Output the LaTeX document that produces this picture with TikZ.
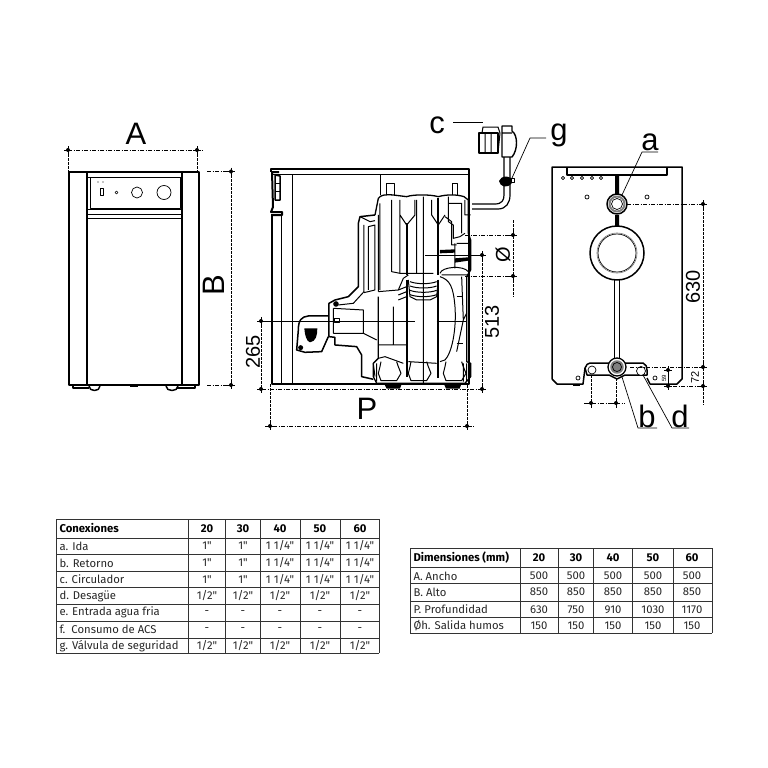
\documentclass[tikz,border=0pt]{standalone}
\usepackage{fontspec}
\setmainfont{Liberation Sans}
\newfontfamily\tablefont{Fira Sans}
\tikzset{
  dim/.style={black,line width=0.7pt,dash pattern=on 4pt off 1.5pt on 1pt off 1.5pt},
  dimv/.style={black,line width=0.7pt,dash pattern=on 2.5pt off 1.5pt},
  heavy/.style={line width=2pt},
  letter/.style={font=\fontsize{31}{31}\selectfont,inner sep=0pt},
  measure/.style={font=\fontsize{20}{20}\selectfont,inner sep=0pt,rotate=90},
  cell/.style={font=\tablefont\fontsize{11.3}{12}\selectfont,inner sep=0pt,text=black!85},
  cellhead/.style={font=\tablefont\bfseries\fontsize{11.3}{12}\selectfont,inner sep=0pt},
  rule/.style={line width=0.8pt,black!80},
}
\newcommand{\dimdot}[1]{\fill (#1) circle (2pt); \draw[line width=0.5pt] ($(#1)+(-4,0)$) -- ($(#1)+(4,0)$) ($(#1)+(0,-4)$) -- ($(#1)+(0,4)$);}
\usetikzlibrary{calc}
\begin{document}
\begin{tikzpicture}[x=1pt,y=-1pt,line width=1pt,line join=round]
\useasboundingbox (0,0) rectangle (768,768);
% Vista frontal :
\draw[heavy] (69,172) rectangle (199,385);
\draw[line width=1.3pt] (87,172) -- (87,385) (182,172) -- (182,385);
\draw (87,177) -- (182,177);
\draw (90,177) rectangle (180,208);
\draw (87,209) -- (182,209) (87,214) -- (182,214) (87,218) -- (182,218);
\draw[line width=0.7pt] (100,188) rectangle (103,195);
\fill (98,182) circle (0.7pt) (103,182) circle (0.7pt);
\draw[line width=0.7pt] (116.5,192.5) circle (1.5pt) (137,192.5) circle (5.5pt) (164,192.5) circle (7pt);
\draw[heavy] (73,386) -- (73,388) -- (89,388) (177,388) -- (195,388) -- (195,386);
\draw[line width=1.5pt] (89,386) .. controls (89,392) and (100,392) .. (100,386);
\draw[line width=1.5pt] (166,386) .. controls (166,392) and (178,392) .. (178,386);
\fill (130,385) rectangle (138,387);
% Cotes de la vue frontale :
\draw[dim] (68,150) -- (203,150);
\draw[dimv] (68,150) -- (68,172) (197,150) -- (197,172);
\dimdot{68,150} \dimdot{197,150}
\node[letter] (lblA) at (136,134) {A};
\draw[dim] (207,171.5) -- (231,171.5) (207,385) -- (231,385);
\draw[dimv] (231,171) -- (231,387);
\dimdot{231,171.5} \dimdot{231,385}
\node[letter,rotate=90] (lblB) at (214,285) {B};
\draw[dimv] (261,321) -- (261,389);
\dimdot{261,321} \dimdot{261,389}
\node[measure] (lbl265) at (253,352) {265};
% Vue de cote : caisse
\draw[heavy] (272,214) -- (272,384) -- (469,384) -- (469,169) -- (271,169) -- (271,172);
\draw (272,174) -- (469,174) (281,214) -- (281,384) (292,174) -- (292,384) (380,174) -- (380,195);
\draw[heavy] (272,172) -- (279,172) (272,172) -- (273,207) -- (271,212) -- (282,212) -- (282,215) -- (272,215);
\draw[line width=1.5pt] (275,175) -- (280,176) -- (280,200) -- (275,200) -- cycle;
\draw (275,183) -- (280,183) (275,191) -- (280,191);
% Corps de chaudiere :
\begin{scope}[shift={(260,100)},x=0.3333pt,y=-0.3333pt]
\draw[line width=1.3pt] (345,345) -- (355,295) .. controls (362,285) and (375,283) .. (400,285) -- (440,290) .. controls (460,283) and (510,283) .. (535,290) .. controls (560,283) and (590,283) .. (612,290) -- (625,300) -- (625,400) -- (632,420) -- (632,510) -- (620,530) -- (620,785) -- (632,790) -- (632,830) -- (615,850) -- (350,850) -- (340,830) -- (340,790) -- (355,775) -- (355,590);
% goujons du haut :
\draw (380,285) -- (380,250) -- (405,250) -- (405,285) (578,285) -- (578,250) -- (592,250) -- (592,285);
% virole arriere :
\draw (355,575) -- (415,570) -- (430,535) -- (445,525) (395,300) -- (395,515) -- (420,520) -- (520,520) (360,310) -- (360,570);
\draw[line width=2.2pt] (440,370) -- (440,525) (535,295) -- (535,525) (440,540) -- (440,830) (535,540) -- (535,835);
\draw (420,300) -- (420,345) -- (440,375) -- (465,345) -- (465,300) (515,300) -- (515,345) -- (535,375) -- (555,345) (470,300) -- (470,520) (420,520) -- (420,345);
\draw (490,290) -- (490,855) (445,540) -- (450,590) -- (470,600) -- (510,600) -- (530,590) -- (535,540);
\foreach \rib in {545,558,571,584} \draw (450,\rib) .. controls (470,\rib+8) and (510,\rib+8) .. (530,\rib);
% collecteur de droite :
\draw (565,310) -- (565,365) -- (580,375) -- (580,415) -- (600,410) -- (615,400) (565,290) -- (565,310) -- (605,310) -- (605,400) (615,300) -- (615,345) -- (632,345) (555,350) -- (575,365) -- (575,435) -- (590,435);
\draw (585,430) -- (585,505) (590,430) -- (632,430) (540,520) .. controls (545,500) and (610,495) .. (625,515) (545,525) -- (625,525);
\fill (540,450) -- (585,448) -- (585,458) -- (540,460) -- cycle (585,475) -- (625,472) -- (625,482) -- (585,488) -- cycle;
% sole et brides :
\draw (540,530) .. controls (570,540) and (580,560) .. (585,620) .. controls (590,690) and (575,760) .. (555,780) -- (540,785);
\draw (605,530) -- (610,660) -- (590,755) (610,660) -- (620,640);
\draw (355,775) -- (375,770) -- (430,790) (445,785) -- (530,790) (355,735) -- (440,735) (400,620) -- (400,735);
\foreach \dx in {355,445,550} {\draw (\dx+8,785) -- (\dx+5,800) -- (\dx,820) -- (\dx+8,842) -- (\dx+55,842) -- (\dx+68,820) -- (\dx+60,800) -- (\dx+55,785);}
\draw (340,790) -- (345,830) (350,790) -- (350,845) (610,790) -- (610,845) (620,790) -- (620,845);
\fill (373,852) -- (425,852) -- (420,866) -- (380,866) -- cycle (552,852) -- (604,852) -- (599,866) -- (558,866) -- cycle;
\foreach \rib in {570,585,600} \draw (415,\rib) -- (440,\rib-10);
\draw (590,590) -- (610,590) (590,730) -- (610,730);
% hotte et bruleur :
\draw[line width=1.5pt] (345,345) -- (300,350) -- (295,370) -- (295,560) -- (265,590) -- (225,600) -- (207,610) -- (207,710) -- (225,712) -- (225,735) -- (290,740) -- (305,765) -- (305,830) -- (340,838);
\draw (312,375) -- (312,575) -- (280,610) -- (235,615) (325,380) -- (345,375) -- (345,570) -- (312,578) (325,380) -- (325,570) (355,345) -- (355,575);
\draw (300,350) -- (330,365) -- (345,362);
\draw (220,625) -- (310,630) -- (310,700) -- (220,700) (220,625) -- (220,700) (310,700) -- (350,720);
\draw (225,655) rectangle (240,668);
\fill (228,612) circle (2.8pt);
\draw[line width=1.5pt] (205,648) -- (145,648) .. controls (125,650) and (115,660) .. (115,690) -- (110,750) -- (135,757) -- (185,755) -- (205,710);
\fill (133,685) -- (172,685) .. controls (172,705) and (168,725) .. (150,727) .. controls (140,725) and (134,705) .. (133,685) -- cycle;
\fill (122,743) circle (2.5pt);
% axe du bruleur :
\draw[line width=0.6pt] (0,663) -- (465,663) (530,663) -- (620,663);
\end{scope}
% Circulateur :
\draw[line width=1.2pt] (472,204) -- (495,204) .. controls (502,204) and (504,200) .. (504,195) -- (504,157);
\draw[line width=1.2pt] (472,209) -- (498,209) .. controls (506,209) and (510,203) .. (510,195) -- (510,157);
\draw[line width=1.4pt] (479,133) rectangle (498,153);
\draw (485,133) -- (485,153) (491,133) -- (491,153) (482,133) -- (483,127) -- (498,127) -- (500,133) -- (498,153);
\draw[line width=1.4pt] (502,126) -- (502,157) -- (512,157) .. controls (518,150) and (518,135) .. (512,131) -- (512,126) -- cycle (502,133) -- (512,133);
\fill (499,181) .. controls (502,175) and (507,176) .. (511,178) -- (512,183) .. controls (507,189) and (500,187) .. (499,181) -- cycle;
\draw[line width=0.7pt,fill=white] (511,178) rectangle (514,182);
% Reperes c et g :
\node[letter] (lblc) at (437,125) {c};
\draw[line width=0.7pt] (453,122) -- (483,122);
\node[letter] (lblg) at (559,135) {g};
\draw[line width=0.7pt] (512,178) -- (530,138) -- (546,138);
% Cotes de la vue de cote :
\draw[dim] (262,389) -- (486,389);
\draw[dimv] (270,384) -- (270,430) (467,385) -- (467,430);
\draw[dim] (265,426) -- (474,426);
\dimdot{270,426} \dimdot{467,426}
\node[letter] (lblP) at (367,409) {P};
\draw[dim] (465,235) -- (515,235) (465,276) -- (515,276);
\draw[dimv] (513,220) -- (513,297);
\dimdot{513,235} \dimdot{513,276}
\node[measure] (lblphi) at (503,255) {Ø};
\draw[line width=0.7pt] (425,255) -- (482,255);
\draw[dimv] (482,255) -- (482,389);
\dimdot{482,255} \dimdot{482,389}
\node[measure] (lbl513) at (492,322) {513};
% Vue arriere :
\draw[line width=1.5pt] (552,379) -- (552,167) -- (682,167) -- (682,379) -- (677,384) -- (650,384) -- (647,378);
\draw[line width=1.5pt] (552,379) -- (557,384) -- (583,384) -- (585,368);
\draw[line width=1.2pt] (567,167) -- (567,175) -- (667,175) -- (667,167);
\foreach \px in {563,572,582,592,601} \draw[line width=0.7pt] (\px,178) circle (1.7pt);
\draw[line width=0.7pt] (587,197) circle (2pt) (647,197) circle (2pt) (578,378) circle (2pt) (655,378) circle (2pt);
\fill (615,176) rectangle (619,194) (615,215) rectangle (619,226);
\draw (614.5,280) -- (614.5,358) (619,280) -- (619,358);
\draw[line width=1.5pt] (617,204) circle (10pt);
\draw[gray,line width=2pt] (617,204) circle (7.5pt);
\draw[white,fill=white] (617,204) circle (5.5pt);
\draw[line width=0.7pt] (617,204) circle (5.5pt);
\draw[line width=1.5pt] (617,253) circle (27pt);
\draw[line width=0.7pt] (617,253) circle (19pt);
\draw[gray,line width=0.7pt] (617,253) circle (20pt);
\draw[line width=1.5pt] (587,375) -- (585,368) .. controls (586,365) and (588,363) .. (590,363) -- (643,363) .. controls (646,364) and (647,367) .. (647,370) -- (647,375) -- (625,375) -- (617,379) -- (609,375) -- cycle;
\draw[fill=white,line width=0.7pt] (592,370) circle (4pt) (641,371) circle (4.5pt);
\draw[fill=white,line width=1.3pt] (617,367) circle (9pt);
\draw[fill=white,gray,line width=1.5pt] (617,367) circle (6pt);
\draw[line width=0.7pt] (617,367) circle (4.5pt);
\fill (573,384) rectangle (580,386);
% Cotes de la vue arriere :
\draw[dim] (627,204) -- (703,204) (630,367) -- (706,367) (665,386) -- (706,386);
\draw[dimv] (703,204) -- (703,405);
\dimdot{703,204} \dimdot{703,367} \dimdot{703,386}
\node[measure] (lbl630) at (693,287) {630};
\node[measure,font=\fontsize{11}{11}\selectfont] (lbl72) at (695,377) {72};
\draw[line width=0.6pt] (668,367) -- (668,390);
\dimdot{668,370} \dimdot{668,386}
\node[measure,font=\fontsize{6}{6}\selectfont] (lbl59) at (664,378) {59};
\draw[dimv] (591,375) -- (591,408) (616,378) -- (616,408);
\draw[dim] (584,403) -- (625,403);
\dimdot{591,403} \dimdot{616,403}
% Reperes a, b et d :
\node[letter] (lbla) at (650,142) {a};
\draw[line width=0.7pt] (622,195) -- (642,152) -- (658,152);
\node[letter] (lblb) at (647,416) {b};
\draw[line width=0.7pt] (622,377) -- (638,428) -- (657,428);
\node[letter] (lbld) at (680,416) {d};
\draw[line width=0.7pt] (643,375) -- (672,428) -- (689,428);
% Tableau des conexiones :
\foreach \cx in {56,188,225,260,300,340,379} \draw[rule] (\cx,519) -- (\cx,653);
\foreach \cy in {519,538,554,571,587,604,621,638,653} \draw[rule] (56,\cy) -- (379,\cy);
\foreach \ct/\cy in {a. Ida/546,b. Retorno/563,c. Circulador/579.5,d. Desagüe/596,e. Entrada agua fria/612.5,f.\ \ Consumo de ACS/629.5,g. Válvula de seguridad/646}
  \node[cell,anchor=west] at (59,\cy) {\ct};
\node[cellhead,anchor=west] (conexiones) at (59,528.5) {Conexiones};
\foreach \cx/\ct in {207/20,243/30,280/40,320/50,360/60} \node[cellhead] at (\cx,528.5) {\ct};
\foreach \cx in {207,243} \foreach \cy in {546,563,579.5} \node[cell] at (\cx,\cy) {1"};
\foreach \cx in {280,320,360} \foreach \cy in {546,563,579.5} \node[cell] at (\cx,\cy) {1 1/4"};
\foreach \cx in {207,243,280,320,360} {
  \node[cell] at (\cx,596) {1/2"};
  \node[cell] at (\cx,612.5) {-};
  \node[cell] at (\cx,629.5) {-};
  \node[cell] at (\cx,646) {1/2"};
}
% Tableau des dimensiones :
\foreach \cx in {410,520,558,593,632,673,712} \draw[rule] (\cx,548) -- (\cx,633);
\foreach \cy in {548,567,583,601,617,633} \draw[rule] (410,\cy) -- (712,\cy);
\node[cellhead,anchor=west] (dimensiones) at (413,558) {Dimensiones (mm)};
\foreach \ct/\cy in {A. Ancho/576,B. Alto/592,P. Profundidad/609.5,Øh. Salida humos/626}
  \node[cell,anchor=west] at (413,\cy) {\ct};
\foreach \cx/\ct/\va/\vb/\vc/\vd in {539/20/500/850/630/150,576/30/500/850/750/150,613/40/500/850/910/150,653/50/500/850/1030/150,692/60/500/850/1170/150} {
  \node[cellhead] at (\cx,558) {\ct};
  \node[cell] at (\cx,576) {\va};
  \node[cell] at (\cx,592) {\vb};
  \node[cell] at (\cx,609.5) {\vc};
  \node[cell] at (\cx,626) {\vd};
}
\end{tikzpicture}
\end{document}
